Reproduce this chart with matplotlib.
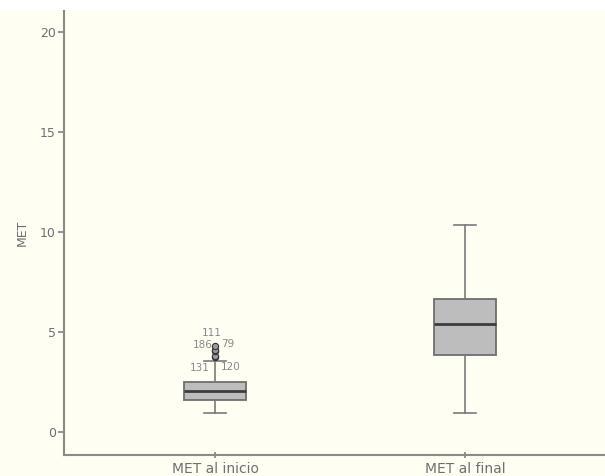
import matplotlib

matplotlib.use("Agg")
import matplotlib.pyplot as plt
from matplotlib.patches import Rectangle

# box statistics
labels = ["MET al inicio", "MET al final"]
q1 = [1.6, 3.85]
median = [2.05, 5.4]
q3 = [2.5, 6.65]
whislo = [0.95, 0.95]
whishi = [3.55, 10.35]

# flagged cases on the first box
outlier_ids = ["131", "120", "186", "79", "111"]
outlier_vals = [3.75, 3.8, 4.05, 4.1, 4.3]
outlier_offsets = [(-11, -8), (11, -8), (-9, 4), (9, 4), (-2, 9)]

cream = "#fefef2"
text_grey = "#707070"
line_grey = "#8a8a8a"

plt.rcParams["font.family"] = ["DejaVu Sans"]

fig = plt.figure(figsize=(6.05, 4.76), dpi=100, facecolor=cream)
fig.patches.append(
    Rectangle((0, 1 - 10 / 476), 1, 10 / 476, transform=fig.transFigure,
              facecolor="white", edgecolor="none", zorder=0)
)
ax = fig.add_axes([64 / 605, 21 / 476, 1 - 64 / 605, 445 / 476])
ax.set_facecolor(cream)

stats = []
for i, name in enumerate(labels):
    stats.append({
        "label": name,
        "q1": q1[i],
        "med": median[i],
        "q3": q3[i],
        "whislo": whislo[i],
        "whishi": whishi[i],
        "fliers": outlier_vals if i == 0 else [],
    })

ax.bxp(
    stats,
    positions=[1, 2],
    widths=0.25,
    patch_artist=True,
    boxprops=dict(facecolor="#bdbdbd", edgecolor="#6e6e6e", linewidth=1.3),
    medianprops=dict(color="#3c3c3c", linewidth=2),
    whiskerprops=dict(color="#7a7a7a", linewidth=1.2),
    capprops=dict(color="#7a7a7a", linewidth=1.2),
    capwidths=0.09,
    flierprops=dict(marker="o", markersize=4.5, markerfacecolor="#9a9a9a",
                    markeredgecolor="#333333", markeredgewidth=0.8),
)

for name, val, (dx, dy) in zip(outlier_ids, outlier_vals, outlier_offsets):
    ax.annotate(name, (1, val), xytext=(dx, dy), textcoords="offset points",
                ha="center", va="center", fontsize=7.5, color="#8a8a8a")

ax.set_xlim(0.396, 2.56)
ax.set_ylim(-1.15, 21.1)
ax.set_yticks([0, 5, 10, 15, 20])
ax.set_ylabel("MET", fontsize=9, color=text_grey, labelpad=8)

for side in ["top", "right"]:
    ax.spines[side].set_visible(False)
for side in ["left", "bottom"]:
    ax.spines[side].set_color(line_grey)
    ax.spines[side].set_linewidth(1.5)

ax.tick_params(axis="y", colors=line_grey, labelcolor=text_grey,
               labelsize=9, length=4, width=1.3, pad=2)
ax.tick_params(axis="x", colors=line_grey, labelcolor=text_grey,
               labelsize=10, length=5, width=1.3, direction="inout", pad=2.5)

fig.savefig("out.png", dpi=100, facecolor=fig.get_facecolor())
plt.close(fig)
